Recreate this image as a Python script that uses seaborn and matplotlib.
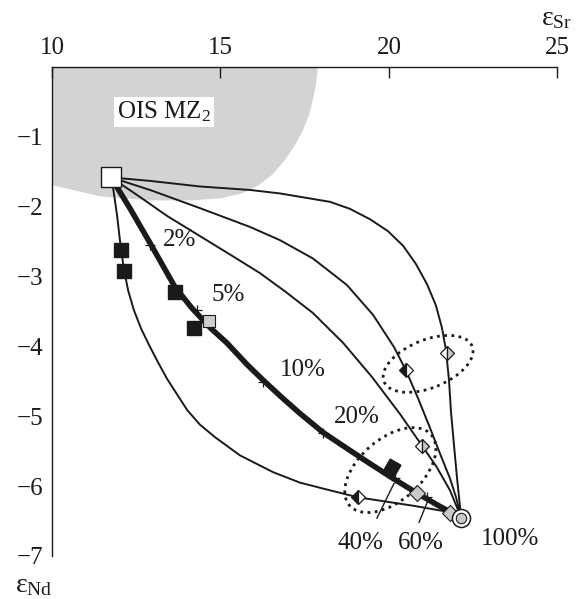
import matplotlib
matplotlib.use("Agg")
import numpy as np
import pandas as pd
import matplotlib.pyplot as plt
import matplotlib.transforms as mtransforms
from matplotlib.patches import Ellipse
import seaborn as sns

# mixing curves (eps Sr, eps Nd)
c1_x = [11.75, 11.81, 11.93, 12.05, 12.14, 12.26, 12.43, 12.64, 12.88, 13.15, 13.41, 14.01, 14.39, 14.84, 15.58, 16.56, 17.36, 18.25, 19.08, 20.71, 21.66, 22.14]
c1_y = [-1.58, -1.72, -2.12, -2.62, -2.91, -3.20, -3.48, -3.74, -3.98, -4.23, -4.46, -4.91, -5.12, -5.30, -5.56, -5.80, -5.95, -6.06, -6.16, -6.28, -6.36, -6.45]
c3_x = [11.75, 12.61, 13.41, 14.39, 15.37, 16.17, 16.91, 17.74, 18.64, 19.50, 20.33, 20.98, 21.42, 21.81, 22.14]
c3_y = [-1.58, -1.86, -2.13, -2.42, -2.71, -2.95, -3.21, -3.52, -3.95, -4.44, -4.97, -5.42, -5.73, -6.06, -6.45]
c4_x = [11.75, 12.91, 14.39, 15.88, 16.77, 17.74, 18.75, 19.53, 20.15, 20.50, 20.86, 21.22, 21.51, 21.81, 21.99, 22.14]
c4_y = [-1.58, -1.76, -2.02, -2.29, -2.48, -2.74, -3.12, -3.55, -4.01, -4.34, -4.74, -5.17, -5.53, -5.89, -6.16, -6.45]
c5_x = [11.75, 12.91, 14.39, 15.88, 16.77, 18.25, 18.84, 19.44, 19.97, 20.42, 20.80, 21.13, 21.39, 21.57, 21.69, 21.78, 21.84, 21.93, 22.02, 22.14]
c5_y = [-1.58, -1.63, -1.71, -1.76, -1.81, -1.93, -2.03, -2.18, -2.35, -2.56, -2.82, -3.11, -3.41, -3.73, -4.05, -4.48, -4.94, -5.42, -5.89, -6.45]
# main (thick) mixing line
main_x = [11.75, 12.31, 12.91, 13.65, 14.15, 14.69, 15.19, 15.79, 16.26, 16.82, 17.36, 18.04, 18.69, 19.38, 20.12, 20.83, 21.51, 22.14]
main_y = [-1.58, -2.02, -2.52, -3.15, -3.45, -3.73, -3.95, -4.26, -4.48, -4.73, -4.96, -5.23, -5.44, -5.66, -5.89, -6.10, -6.29, -6.45]
tick_pct = ["2%", "5%", "10%", "20%", "40%", "60%"]
tick_x = [12.91, 14.29, 16.26, 18.04, 20.18, 21.13]
tick_y = [-2.55, -3.48, -4.51, -5.24, -5.89, -6.16]

# OIS MZ2 field outline
field_x = [10, 17.89, 17.83, 17.74, 17.63, 17.45, 17.21, 16.91, 16.56, 16.14, 15.64, 14.99, 14.09, 12.91, 11.42, 10]
field_y = [0, 0, -0.26, -0.47, -0.69, -0.90, -1.12, -1.33, -1.53, -1.69, -1.81, -1.88, -1.91, -1.91, -1.85, -1.69]

# samples
start_x, start_y = [11.75], [-1.58]
end_x, end_y = [22.14], [-6.45]
black_x = [12.04, 12.15, 13.65, 14.22]
black_y = [-2.62, -2.92, -3.22, -3.73]
gray_sq_x, gray_sq_y = [14.67], [-3.64]
black_tilt_x, black_tilt_y = [20.08], [-5.73]
half_black_x = [19.08, 20.50]
half_black_y = [-6.16, -4.34]
half_gray_x = [20.98, 21.72]
half_gray_y = [-5.42, -4.10]
gray_dia_x = [20.83, 21.81]
gray_dia_y = [-6.10, -6.38]

curves = pd.DataFrame({
    "x": c1_x + c3_x + c4_x + c5_x,
    "y": c1_y + c3_y + c4_y + c5_y,
    "curve": ["c1"] * len(c1_x) + ["c3"] * len(c3_x) + ["c4"] * len(c4_x) + ["c5"] * len(c5_x),
})

sns.set_theme(style="white")
plt.rcParams["font.family"] = ["Liberation Serif", "DejaVu Serif"]
plt.rcParams["mathtext.fontset"] = "custom"
plt.rcParams["mathtext.rm"] = "Liberation Serif"
plt.rcParams["mathtext.it"] = "Liberation Serif:italic"

fig, ax = plt.subplots(figsize=(5.77, 5.99), dpi=100)
fig.subplots_adjust(left=0.0901, right=0.9662, top=0.8881, bottom=0.0718)

ax.fill(field_x, field_y, color="#d3d3d5", lw=0, zorder=0)
sns.lineplot(data=curves, x="x", y="y", units="curve", estimator=None, sort=False,
             color="#1a1a1a", lw=1.4, ax=ax, zorder=2)
ax.plot(main_x, main_y, color="#1a1a1a", lw=4.0, solid_capstyle="round",
        solid_joinstyle="round", zorder=3)
ax.plot(tick_x, tick_y, ls="none", marker="+", ms=7, mew=0.9, color="#1a1a1a", zorder=3)

# leaders for 40% and 60%
ax.plot([20.15, 19.64], [-5.96, -6.46], color="#1a1a1a", lw=1.0, zorder=3)
ax.plot([21.16, 20.89], [-6.20, -6.52], color="#1a1a1a", lw=1.0, zorder=3)

# dotted groups, drawn in screen units around a data centre
for cx, cy, w, h, ang in [(21.16, -4.25, 0.95, 0.48, 22), (20.04, -5.77, 1.08, 0.62, 41)]:
    tr = fig.dpi_scale_trans + mtransforms.ScaledTranslation(cx, cy, ax.transData)
    ax.add_patch(Ellipse((0, 0), w, h, angle=ang, transform=tr, fill=False,
                         ls=(0, (1, 1.6)), lw=2.0, ec="#1a1a1a", zorder=2))

edge = "#1a1a1a"
ax.plot(black_x, black_y, ls="none", marker="s", ms=10.5, mfc="#1a1a1a", mec=edge, zorder=4)
ax.plot(gray_sq_x, gray_sq_y, ls="none", marker="s", ms=8.5, mfc="#cdcdcd", mec=edge, mew=0.8, zorder=4)
ax.plot(black_tilt_x, black_tilt_y, ls="none", marker=(4, 0, 15), ms=12.5, mfc="#1a1a1a", mec=edge, zorder=4)
ax.plot(half_black_x, half_black_y, ls="none", marker="D", ms=7, fillstyle="left",
        mfc="#1a1a1a", mfcalt="white", mec=edge, mew=0.9, zorder=4)
ax.plot(half_gray_x, half_gray_y, ls="none", marker="D", ms=7, fillstyle="left",
        mfc="white", mfcalt="#c8c8c8", mec=edge, mew=0.9, zorder=4)
ax.plot(gray_dia_x, gray_dia_y, ls="none", marker="D", ms=8, mfc="#c8c8c8", mec=edge, mew=0.8, zorder=4)
ax.plot(end_x, end_y, ls="none", marker="o", ms=13, mfc="white", mec=edge, mew=1.1, zorder=5)
ax.plot(end_x, end_y, ls="none", marker="o", ms=7.5, mfc="#c8c8c8", mec=edge, mew=0.8, zorder=6)
ax.plot(start_x, start_y, ls="none", marker="s", ms=14, mfc="white", mec=edge, mew=1.0, zorder=6)

# percentage labels
label_pos = {"2%": (13.80, -2.48), "5%": (15.22, -3.27), "10%": (17.45, -4.34),
             "20%": (19.05, -5.01), "40%": (19.14, -6.82), "60%": (20.95, -6.82)}
for lab in tick_pct:
    lx, ly = label_pos[lab]
    ax.text(lx, ly, lab, fontsize=18, ha="center", va="center", color="#1a1a1a")
ax.text(23.59, -6.75, "100%", fontsize=18, ha="center", va="center", color="#1a1a1a")
ax.text(13.32, -0.645, r"OIS MZ$_\mathrm{2}$", fontsize=18, ha="center", va="center",
        color="#1a1a1a", bbox=dict(boxstyle="square,pad=0.12", fc="white", ec="none"), zorder=5)

ax.set_xlim(10, 25)
ax.set_ylim(-7, 0)
ax.set_xticks([10, 15, 20, 25])
ax.set_yticks([-7, -6, -5, -4, -3, -2, -1])
ax.set_yticklabels(["\u22127", "\u22126", "\u22125", "\u22124", "\u22123", "\u22122", "\u22121"])
ax.xaxis.tick_top()
ax.tick_params(axis="both", direction="in", length=8, width=1.0, labelsize=18,
               colors="#1a1a1a", pad=6)
for side in ["right", "bottom"]:
    ax.spines[side].set_visible(False)
for side in ["left", "top"]:
    ax.spines[side].set_color("#1a1a1a")
    ax.spines[side].set_linewidth(1.0)
ax.set_xlabel("")
ax.set_ylabel("")
fig.text(556 / 577, 1 - 19 / 599, r"$\mathrm{ε_{Sr}}$", fontsize=20, ha="center", va="center", color="#1a1a1a")
fig.text(15 / 577, 1 - 586 / 599, r"$\mathrm{ε_{Nd}}$", fontsize=20, ha="left", va="center", color="#1a1a1a")

fig.savefig("out.png", dpi=100)
